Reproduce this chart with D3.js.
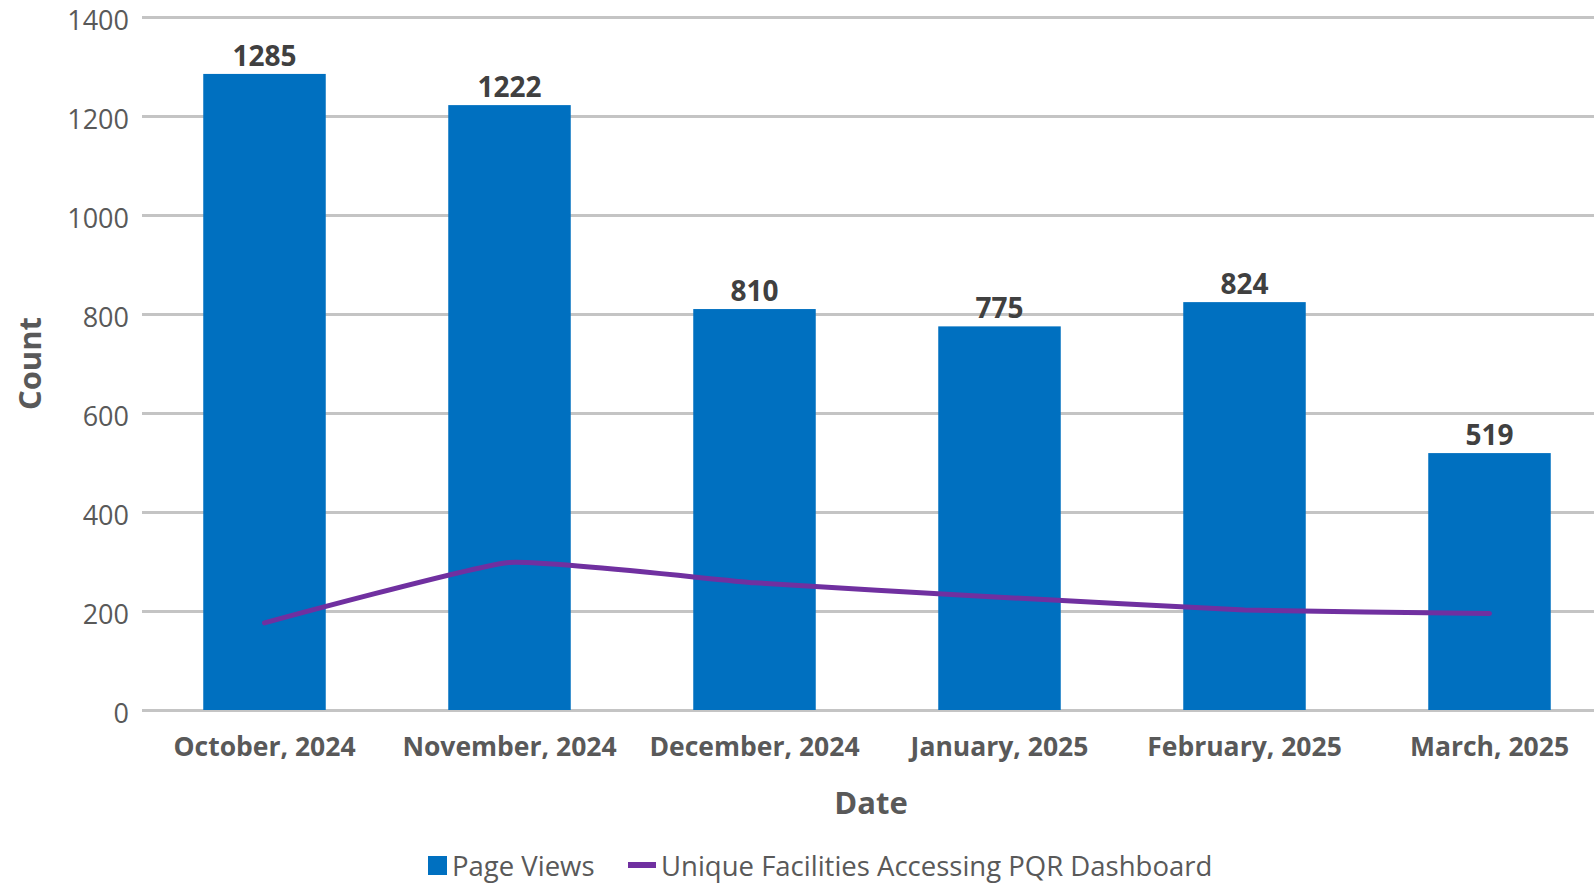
<!DOCTYPE html>
<html>
<head>
<meta charset="utf-8">
<script src="https://cdn.jsdelivr.net/npm/d3@7"></script>
<style>
  body { margin: 0; background: #fff; }
  svg { display: block; font-family: "Open Sans", sans-serif; }
</style>
</head>
<body>
<svg id="chart" width="1594" height="884"></svg>
<script>
const months = ["October, 2024", "November, 2024", "December, 2024", "January, 2025", "February, 2025", "March, 2025"];
const pageViews = [1285, 1222, 810, 775, 824, 519];
const uniqueFacilities = [176, 298, 257, 228, 202, 195];
const yTicks = [0, 200, 400, 600, 800, 1000, 1200, 1400];

const width = 1594;
const height = 884;
const margin = { top: 17, left: 142, bottom: 710, right: 1612 };
const font = "'Open Sans', sans-serif";

const svg = d3.select("#chart");

const x = d3.scaleBand()
    .domain(months)
    .range([margin.left, margin.right])
    .paddingInner(0.5)
    .paddingOuter(0.25);

const y = d3.scaleLinear()
    .domain([0, 1400])
    .range([margin.bottom, margin.top]);

// gridlines + y labels
const yAxis = svg.append("g")
    .attr("transform", `translate(${margin.left},0)`)
    .call(d3.axisLeft(y).tickValues(yTicks).tickSize(-(margin.right - margin.left)).tickPadding(13).tickFormat(d3.format("d")));
yAxis.attr("font-family", font);
yAxis.select(".domain").remove();
yAxis.selectAll(".tick line").attr("stroke", "#c4c4c4").attr("stroke-width", 3);
yAxis.selectAll(".tick text")
    .attr("fill", "#595959")
    .attr("font-size", 27)
    .attr("dy", "0.45em");

// bars
svg.append("g")
    .selectAll("rect")
    .data(pageViews)
    .join("rect")
    .attr("x", (d, i) => x(months[i]))
    .attr("y", d => y(d))
    .attr("width", x.bandwidth())
    .attr("height", d => y(0) - y(d))
    .attr("fill", "#0070c0");

// value labels
svg.append("g")
    .selectAll("text")
    .data(pageViews)
    .join("text")
    .attr("x", (d, i) => x(months[i]) + x.bandwidth() / 2)
    .attr("y", d => y(d) - 8)
    .attr("text-anchor", "middle")
    .attr("font-size", 28)
    .attr("font-weight", "bold")
    .attr("fill", "#404040")
    .text(d => d);

// line (excel-style smoothed)
const line = d3.line()
    .x((d, i) => x(months[i]) + x.bandwidth() / 2)
    .y(d => y(d))
    .curve(d3.curveCardinal.tension(0.6));

svg.append("path")
    .datum(uniqueFacilities)
    .attr("d", line)
    .attr("fill", "none")
    .attr("stroke", "#7030a0")
    .attr("stroke-width", 5)
    .attr("stroke-linecap", "round");

// x labels
const xAxis = svg.append("g")
    .attr("transform", `translate(0,${margin.bottom})`)
    .call(d3.axisBottom(x).tickSize(0).tickPadding(27));
xAxis.attr("font-family", font);
xAxis.select(".domain").remove();
xAxis.selectAll(".tick text")
    .attr("fill", "#595959")
    .attr("font-size", 26.5)
    .attr("font-weight", "bold");

// axis titles
svg.append("text")
    .attr("x", 871)
    .attr("y", 803)
    .attr("dy", "0.35em")
    .attr("text-anchor", "middle")
    .attr("font-size", 31)
    .attr("font-weight", "bold")
    .attr("fill", "#595959")
    .text("Date");

svg.append("text")
    .attr("transform", `translate(30,${(margin.top + margin.bottom) / 2}) rotate(-90)`)
    .attr("dy", "0.35em")
    .attr("text-anchor", "middle")
    .attr("font-size", 31)
    .attr("font-weight", "bold")
    .attr("fill", "#595959")
    .text("Count");

// legend
const legend = svg.append("g").attr("transform", "translate(0,866)");
legend.append("rect")
    .attr("x", 428).attr("y", -10)
    .attr("width", 19).attr("height", 19)
    .attr("fill", "#0070c0");
legend.append("text")
    .attr("x", 452).attr("y", 0).attr("dy", "0.35em")
    .attr("font-size", 27.5).attr("fill", "#595959")
    .text("Page Views");
legend.append("line")
    .attr("x1", 628).attr("x2", 656)
    .attr("y1", -1).attr("y2", -1)
    .attr("stroke", "#7030a0").attr("stroke-width", 6);
legend.append("text")
    .attr("x", 661).attr("y", 0).attr("dy", "0.35em")
    .attr("font-size", 27.5).attr("fill", "#595959")
    .text("Unique Facilities Accessing PQR Dashboard");
</script>
</body>
</html>
